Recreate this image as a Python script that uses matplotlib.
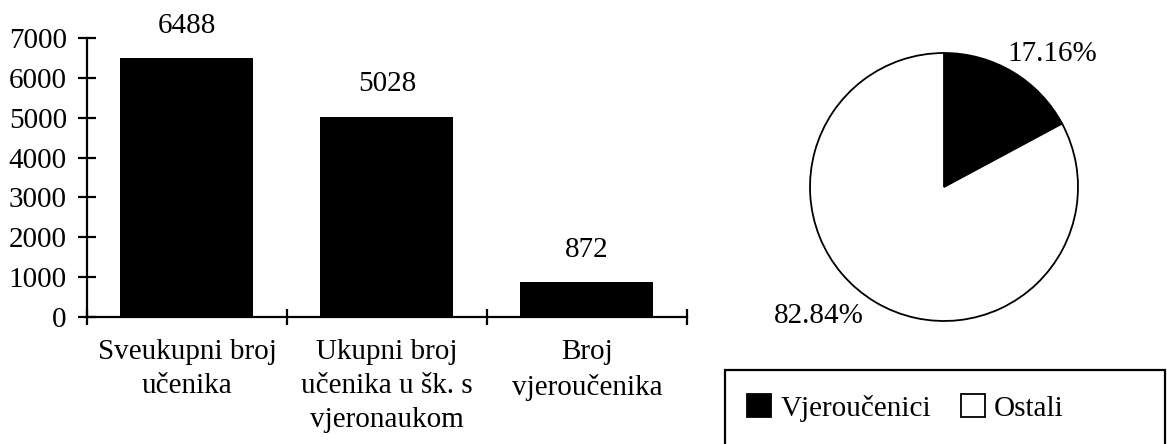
import matplotlib.pyplot as plt
from matplotlib.patches import Rectangle

plt.rcParams['font.family'] = ['Liberation Serif', 'DejaVu Serif']
plt.rcParams['font.size'] = 21

# data
categories = ['Sveukupni broj\nučenika',
              'Ukupni broj\nučenika u šk. s\nvjeronaukom',
              'Broj\nvjeroučenika']
counts = [6488, 5028, 872]
yticks = [0, 1000, 2000, 3000, 4000, 5000, 6000, 7000]

pie_labels = ['Vjeroučenici', 'Ostali']
pie_shares = [17.16, 82.84]

W, H = 1167, 444
fig = plt.figure(figsize=(W / 100, H / 100), dpi=100)

# bar chart
ax = fig.add_axes([87 / W, 127 / H, 600 / W, 279 / H])
x = list(range(len(categories)))
bars = ax.bar(x, counts, width=0.665, color='black')
ax.set_xlim(-0.5, 2.5)
ax.set_ylim(0, 7000)
ax.set_yticks(yticks)
ax.set_xticks(x)
ax.set_xticklabels(categories, linespacing=1.4)
ax.set_xticks([-0.5, 0.5, 1.5, 2.5], minor=True)
ax.tick_params(axis='x', which='major', length=0, pad=16)
ax.tick_params(axis='x', which='minor', direction='inout', length=11, width=1.6)
ax.tick_params(axis='y', direction='inout', length=13, width=1.6, pad=8)
for s in ['top', 'right']:
    ax.spines[s].set_visible(False)
for s in ['left', 'bottom']:
    ax.spines[s].set_linewidth(1.6)

for b, v in zip(bars, counts):
    ax.annotate(str(v), (b.get_x() + b.get_width() / 2, v),
                xytext=(0, 14), textcoords='offset points',
                ha='center', va='bottom')

# pie chart
pr = 134 * 1.25
pax = fig.add_axes([(944 - pr) / W, (H - 187 - pr) / H, 2 * pr / W, 2 * pr / H])
wedges, _ = pax.pie(pie_shares, colors=['black', 'white'], startangle=90,
                    counterclock=False,
                    wedgeprops=dict(edgecolor='black', linewidth=1.3))
pax.set_xlim(-1.25, 1.25)
pax.set_ylim(-1.25, 1.25)
pax.text(0.806, 0.99, f'{pie_shares[0]:.2f}%', ha='center', va='center')
pax.text(-0.933, -0.96, f'{pie_shares[1]:.2f}%', ha='center', va='center')

# legend box (cut at the bottom edge like the scan)
frame = Rectangle((725 / W, -0.2), (1165 - 725) / W, (H - 370) / H + 0.2,
                  transform=fig.transFigure, fill=False, edgecolor='black',
                  linewidth=1.6, clip_on=False)
fig.add_artist(frame)
fig.legend(wedges, pie_labels, loc='center left',
           bbox_to_anchor=(747 / W, (H - 408) / H), frameon=False,
           borderpad=0, borderaxespad=0, handlelength=0.83, handleheight=0.83,
           handletextpad=0.31, columnspacing=1.03, ncol=2)

fig.savefig('out.png', dpi=100)
